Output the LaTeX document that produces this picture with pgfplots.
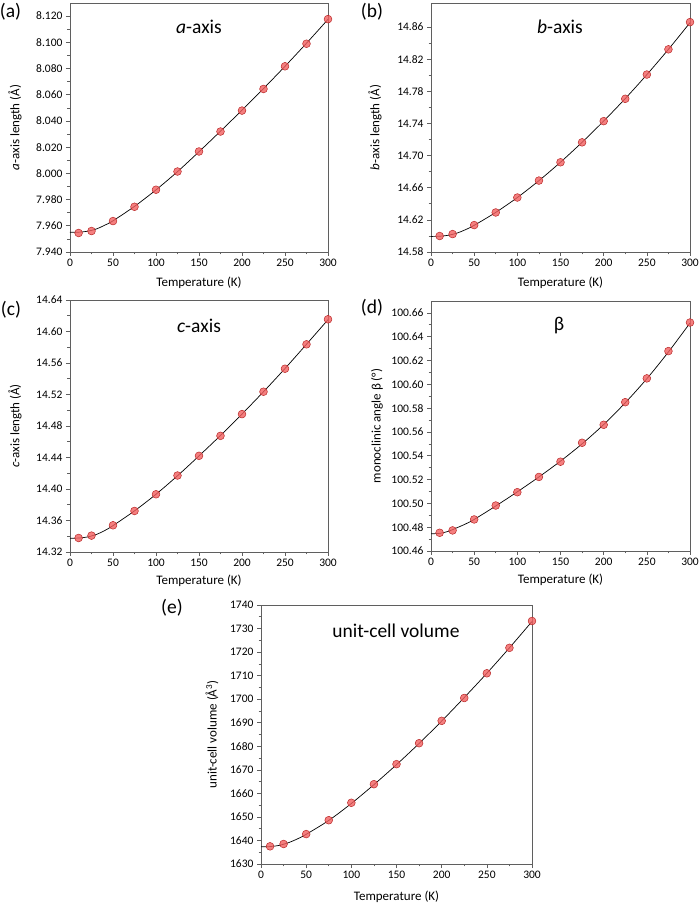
\documentclass[border=0pt]{standalone}
\usepackage{fontspec}
\setmainfont{Carlito}
\usepackage{pgfplots}
\pgfplotsset{compat=1.18}

\definecolor{markfill}{RGB}{242,95,95}
\definecolor{markedge}{RGB}{185,40,40}
\definecolor{framegray}{RGB}{95,95,95}

\pgfplotsset{
  panel/.style={
    scale only axis,
    xmin=0, xmax=300,
    xtick={0,50,100,150,200,250,300},
    minor x tick num=1,
    minor y tick num=1,
    tick align=outside,
    tick pos=left,
    major tick length=4pt,
    minor tick length=2.5pt,
    axis line style={framegray, line width=0.7pt},
    tick style={framegray, line width=0.6pt},
    tick label style={font=\fontsize{11.5}{13}\selectfont},
    label style={font=\fontsize{13}{15}\selectfont},
    /pgf/number format/assume math mode=true,
    xlabel={Temperature (K)},
    xlabel style={at={(axis description cs:0.5,0)}, anchor=center, yshift=-31pt},
    clip=false,
  },
  pts/.style={only marks, mark=*, mark size=3.9pt,
    mark options={fill=markfill, fill opacity=0.8, draw=markedge, line width=0.5pt}},
  fitline/.style={black, line width=0.7pt, smooth, no marks},
}
\newcommand{\titlefont}{\fontsize{19.5}{23}\selectfont}

\begin{document}
\begin{tikzpicture}
\path[use as bounding box] (0,0) rectangle (700pt,904pt);

% (a) a-axis
\begin{axis}[panel, at={(70pt,652pt)}, anchor=south west, width=258pt, height=249pt,
  ymin=7.94, ymax=8.13,
  ytick={7.94,7.96,7.98,8.00,8.02,8.04,8.06,8.08,8.10,8.12},
  yticklabel style={/pgf/number format/.cd, fixed, fixed zerofill, precision=3},
  ylabel={\textit{a}-axis length (Å)},
  ylabel style={at={(axis description cs:-0.213,0.5)}, anchor=center}]
\addplot[pts] coordinates {(10,7.9545)(25,7.9560)(50,7.9636)(75,7.9745)(100,7.9875)(125,8.0014)
  (150,8.0167)(175,8.0319)(200,8.0479)(225,8.0644)(250,8.0817)(275,8.0989)(300,8.1177)};
\addplot[fitline] coordinates {(0,7.9550)(10,7.9551)(20,7.9558)(30,7.9574)(40,7.9603)(50,7.9638)
  (75,7.9748)(100,7.9874)(125,8.0013)(150,8.0165)(175,8.0322)(200,8.0482)(225,8.0647)
  (250,8.0817)(275,8.0993)(300,8.1175)};
\node[font=\titlefont] at (axis description cs:0.5,0.904) {\textit{a}-axis};
\end{axis}

% (b) b-axis
\begin{axis}[panel, at={(431pt,652pt)}, anchor=south west, width=259pt, height=249pt,
  ymin=14.58, ymax=14.89,
  ytick={14.58,14.62,14.66,14.70,14.74,14.78,14.82,14.86},
  yticklabel style={/pgf/number format/.cd, fixed, fixed zerofill, precision=2},
  ylabel={\textit{b}-axis length (Å)},
  ylabel style={at={(axis description cs:-0.216,0.5)}, anchor=center}]
\addplot[pts] coordinates {(10,14.5999)(25,14.6023)(50,14.6135)(75,14.6292)(100,14.6478)(125,14.6689)
  (150,14.6917)(175,14.7165)(200,14.7429)(225,14.7707)(250,14.8009)(275,14.8323)(300,14.8662)};
\addplot[fitline] coordinates {(0,14.5994)(10,14.5996)(20,14.6008)(30,14.6035)(40,14.6078)(50,14.6132)
  (75,14.6293)(100,14.6478)(125,14.6688)(150,14.6918)(175,14.7166)(200,14.7430)(225,14.7710)
  (250,14.8008)(275,14.8323)(300,14.8655)};
\node[font=\titlefont] at (axis description cs:0.498,0.904) {\textit{b}-axis};
\end{axis}

% (c) c-axis
\begin{axis}[panel, at={(70pt,352pt)}, anchor=south west, width=258pt, height=252pt,
  ymin=14.32, ymax=14.64,
  ytick={14.32,14.36,14.40,14.44,14.48,14.52,14.56,14.60,14.64},
  yticklabel style={/pgf/number format/.cd, fixed, fixed zerofill, precision=2},
  ylabel={\textit{c}-axis length (Å)},
  ylabel style={at={(axis description cs:-0.213,0.5)}, anchor=center},
  xlabel style={yshift=2pt}]
\addplot[pts] coordinates {(10,14.3378)(25,14.3408)(50,14.3539)(75,14.3721)(100,14.3933)(125,14.4171)
  (150,14.4421)(175,14.4675)(200,14.4951)(225,14.5235)(250,14.5527)(275,14.5837)(300,14.6155)};
\addplot[fitline] coordinates {(0,14.3375)(10,14.3377)(20,14.3390)(30,14.3420)(40,14.3470)(50,14.3535)
  (75,14.3722)(100,14.3933)(125,14.4168)(150,14.4420)(175,14.4680)(200,14.4952)(225,14.5235)
  (250,14.5530)(275,14.5838)(300,14.6150)};
\node[font=\titlefont] at (axis description cs:0.5,0.897) {\textit{c}-axis};
\end{axis}

% (d) monoclinic angle
\begin{axis}[panel, at={(431pt,353pt)}, anchor=south west, width=259pt, height=250pt,
  ymin=100.46, ymax=100.67,
  ytick={100.46,100.48,100.50,100.52,100.54,100.56,100.58,100.60,100.62,100.64,100.66},
  yticklabel style={/pgf/number format/.cd, fixed, fixed zerofill, precision=2},
  ylabel={monoclinic angle β (°)},
  ylabel style={at={(axis description cs:-0.209,0.5)}, anchor=center},
  xlabel style={yshift=2pt}]
\addplot[pts] coordinates {(10,100.4753)(25,100.4773)(50,100.4865)(75,100.4982)(100,100.5094)(125,100.5222)
  (150,100.5350)(175,100.5509)(200,100.5660)(225,100.5850)(250,100.6050)(275,100.6279)(300,100.6519)};
\addplot[fitline] coordinates {(0,100.4745)(10,100.4748)(20,100.4765)(30,100.4795)(40,100.4827)(50,100.4865)
  (75,100.4978)(100,100.5097)(125,100.5222)(150,100.5355)(175,100.5500)(200,100.5662)(225,100.5845)
  (250,100.6047)(275,100.6272)(300,100.6515)};
\node[font=\titlefont] at (axis description cs:0.494,0.9) {β};
\end{axis}

% (e) unit-cell volume
\begin{axis}[panel, at={(261pt,40pt)}, anchor=south west, width=271pt, height=259pt,
  ymin=1630, ymax=1740,
  ytick={1630,1640,1650,1660,1670,1680,1690,1700,1710,1720,1730,1740},
  yticklabel style={/pgf/number format/.cd, 1000 sep={}},
  ylabel={unit-cell volume (Å\textsuperscript{3})},
  ylabel style={at={(axis description cs:-0.181,0.5)}, anchor=center},
  xlabel style={yshift=-2pt}]
\addplot[pts] coordinates {(10,1637.5)(25,1638.5)(50,1642.7)(75,1648.6)(100,1656.0)(125,1663.9)
  (150,1672.4)(175,1681.3)(200,1690.8)(225,1700.5)(250,1711.0)(275,1721.8)(300,1733.2)};
\addplot[fitline] coordinates {(0,1637.3)(10,1637.4)(20,1637.9)(30,1639.0)(40,1640.6)(50,1642.6)
  (75,1648.5)(100,1655.7)(125,1663.7)(150,1672.2)(175,1681.2)(200,1690.7)(225,1700.7)
  (250,1711.0)(275,1721.8)(300,1733.0)};
\node[font=\titlefont] at (axis description cs:0.498,0.9) {unit-cell volume};
\end{axis}

% panel letters
\node[font=\titlefont] at (10.5pt,892pt) {(a)};
\node[font=\titlefont] at (372pt,892pt) {(b)};
\node[font=\titlefont] at (11pt,594pt) {(c)};
\node[font=\titlefont] at (372pt,596pt) {(d)};
\node[font=\titlefont] at (172pt,296pt) {(e)};
\end{tikzpicture}
\end{document}
